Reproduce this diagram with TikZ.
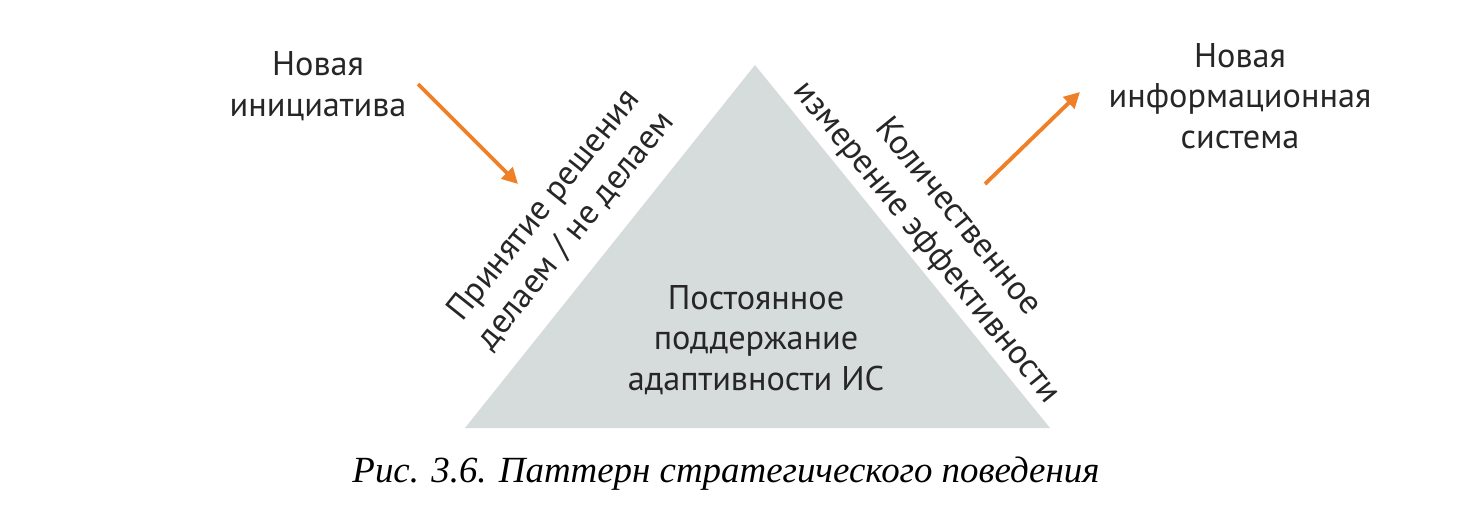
\documentclass[tikz,border=0pt]{standalone}
\usepackage{fontspec}
\setmainfont{PT Sans}
\newfontfamily\capfont{Liberation Serif}
\usetikzlibrary{arrows.meta}
\definecolor{trigray}{RGB}{214,219,219}
\definecolor{arrorange}{RGB}{240,128,40}
\tikzset{
	lbl/.style = {align=center, font=\fontsize{19.5}{23}\selectfont, text=black!85},
	orarrow/.style = {draw=arrorange, line width=2.2pt, -{Triangle[length=9pt,width=9pt]}}
}
\begin{document}
\begin{tikzpicture}[x=0.02cm, y=-0.02cm]
	\useasboundingbox (0,0) rectangle (1458,508);
	% triangle
	\coordinate (apex) at (755,65);
	\coordinate (bl) at (465,428);
	\coordinate (br) at (1050,428);
	\fill [trigray] (apex) -- (br) -- (bl) -- cycle;
	\node [lbl] (core) at (756,340) {Постоянное\\поддержание\\адаптивности ИС};
	% side labels
	\node [lbl, rotate=51.4] (decide) at (560,218) {Принятие решения\\делаем / не делаем};
	\node [lbl, rotate=-51] (measure) at (942,230) {Количественное\\измерение эффективности};
	% input and output
	\node [lbl] (init) at (318,86) {Новая\\инициатива};
	\node [lbl] (newis) at (1240,96) {Новая\\информационная\\система};
	\coordinate (ina) at (418,84);
	\coordinate (inb) at (518,184);
	\coordinate (outa) at (985,184);
	\coordinate (outb) at (1080,92);
	\draw [orarrow] (ina) -- (inb);
	\draw [orarrow] (outa) -- (outb);
	% caption
	\node [font=\capfont\itshape\fontsize{21}{24}\selectfont] (cap) at (726,474) {Рис. 3.6. Паттерн стратегического поведения};
\end{tikzpicture}
\end{document}
